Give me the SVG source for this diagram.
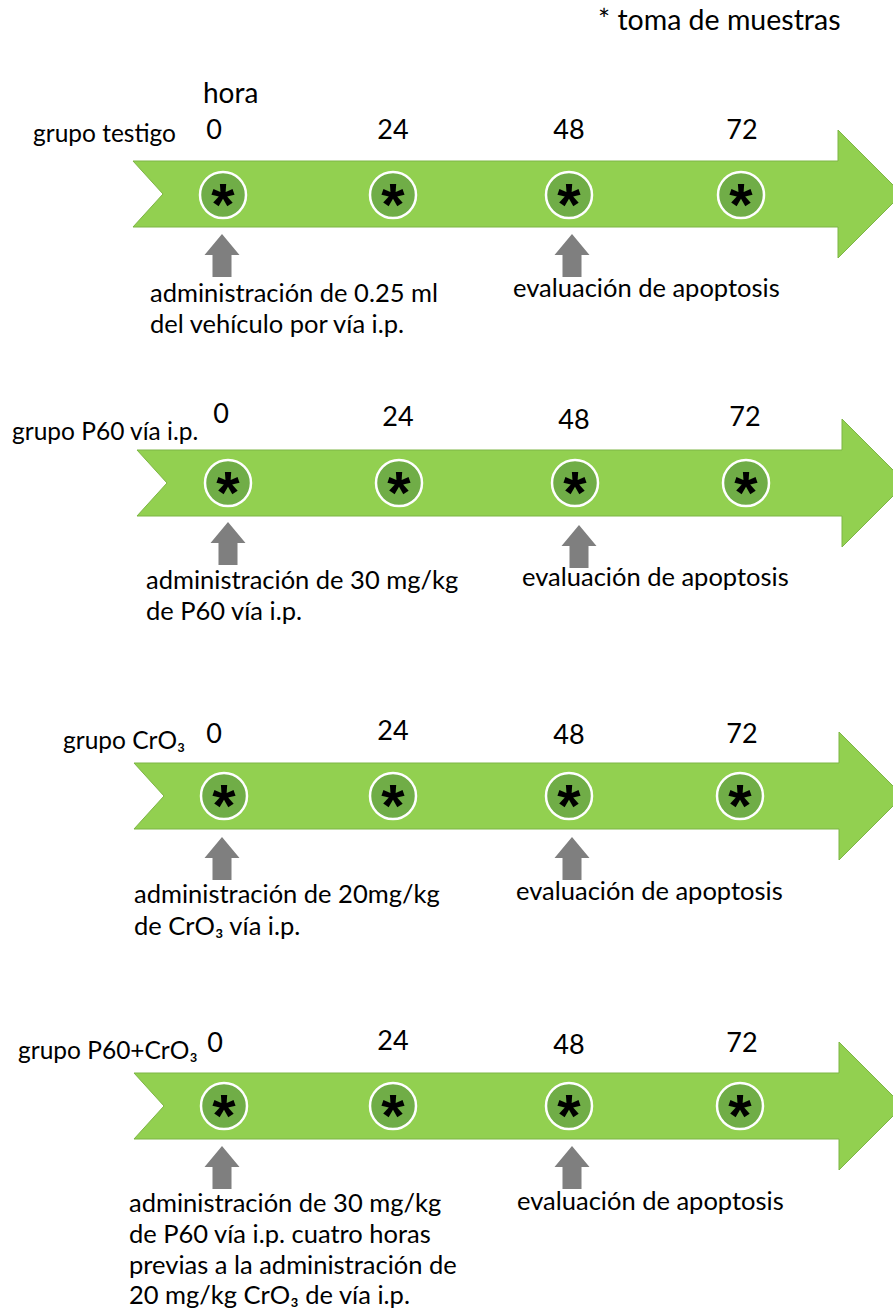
<svg xmlns="http://www.w3.org/2000/svg" width="893" height="1313" viewBox="0 0 893 1313">
<defs>
<style>
text{font-family:Lato,"Open Sans","Liberation Sans",sans-serif;fill:#000}
.t{font-size:25.5px}
.g{font-size:24.5px}
.n{font-size:27px}
.h{font-size:28px}
.tm{font-size:28.5px}
.ast{font-family:"Liberation Sans",sans-serif;font-size:60px;font-weight:bold;text-anchor:middle}
.mid{text-anchor:middle}
.band{fill:#92D050;stroke:#7DB544;stroke-width:1}
.dot{fill:#70AD47;stroke:#FFFFFF;stroke-width:2.5}
.up{fill:#7F7F7F}
</style>
<path id="band" d="M0,-33 L705,-33 L705,-64 L769,0 L705,64 L705,33 L0,33 L30,0 Z"/>
<path id="uparrow" d="M0,0 L17.5,21 L9.5,21 L9.5,43 L-9.5,43 L-9.5,21 L-17.5,21 Z"/>
</defs>
<rect width="893" height="1313" fill="#FFFFFF"/>
<text class="tm" x="598" y="30">* toma de muestras</text>
<text class="h" x="203" y="103">hora</text>

<g id="grupo-testigo">
<use href="#band" class="band" transform="translate(133,194)"/>
<text class="g" x="33" y="142">grupo testigo</text>
<text class="n mid" x="214" y="139">0</text>
<text class="n mid" x="393" y="139">24</text>
<text class="n mid" x="569" y="139">48</text>
<text class="n mid" x="742" y="139">72</text>
<circle class="dot" cx="223" cy="195" r="23"/><text class="ast" x="223" y="225">*</text>
<circle class="dot" cx="393" cy="195" r="23"/><text class="ast" x="393" y="225">*</text>
<circle class="dot" cx="569" cy="195" r="23"/><text class="ast" x="569" y="225">*</text>
<circle class="dot" cx="741" cy="195" r="23"/><text class="ast" x="741" y="225">*</text>
<text class="t" x="150" y="302">administración de 0.25 ml</text>
<text class="t" x="150" y="333">del vehículo por vía i.p.</text>
<text class="t" x="513" y="297">evaluación de apoptosis</text>
</g>

<g id="grupo-p60">
<use href="#band" class="band" transform="translate(137,483)"/>
<text class="g" x="12" y="440">grupo P60 vía i.p.</text>
<text class="n mid" x="221" y="423">0</text>
<text class="n mid" x="398" y="426">24</text>
<text class="n mid" x="574" y="429">48</text>
<text class="n mid" x="745" y="426">72</text>
<circle class="dot" cx="228" cy="483" r="23"/><text class="ast" x="228" y="513">*</text>
<circle class="dot" cx="399" cy="483" r="23"/><text class="ast" x="399" y="513">*</text>
<circle class="dot" cx="575" cy="483" r="23"/><text class="ast" x="575" y="513">*</text>
<circle class="dot" cx="746" cy="483" r="23"/><text class="ast" x="746" y="513">*</text>
<text class="t" x="146" y="589">administración de 30 mg/kg</text>
<text class="t" x="146" y="620">de P60 vía i.p.</text>
<text class="t" x="522" y="586">evaluación de apoptosis</text>
</g>

<g id="grupo-cro3">
<use href="#band" class="band" transform="translate(134,796)"/>
<text class="g" x="63" y="749">grupo CrO₃</text>
<text class="n mid" x="214" y="743">0</text>
<text class="n mid" x="393" y="740">24</text>
<text class="n mid" x="569" y="744">48</text>
<text class="n mid" x="742" y="743">72</text>
<circle class="dot" cx="224" cy="796" r="23"/><text class="ast" x="224" y="826">*</text>
<circle class="dot" cx="393" cy="796" r="23"/><text class="ast" x="393" y="826">*</text>
<circle class="dot" cx="569" cy="796" r="23"/><text class="ast" x="569" y="826">*</text>
<circle class="dot" cx="740" cy="796" r="23"/><text class="ast" x="740" y="826">*</text>
<text class="t" x="134" y="903">administración de 20mg/kg</text>
<text class="t" x="134" y="935">de CrO₃ vía i.p.</text>
<text class="t" x="516" y="900">evaluación de apoptosis</text>
</g>

<g id="grupo-p60-cro3">
<use href="#band" class="band" transform="translate(134,1106)"/>
<text class="g" x="18" y="1059">grupo P60+CrO₃</text>
<text class="n mid" x="215" y="1052">0</text>
<text class="n mid" x="393" y="1050">24</text>
<text class="n mid" x="569" y="1054">48</text>
<text class="n mid" x="742" y="1052">72</text>
<circle class="dot" cx="224" cy="1106" r="23"/><text class="ast" x="224" y="1136">*</text>
<circle class="dot" cx="393" cy="1106" r="23"/><text class="ast" x="393" y="1136">*</text>
<circle class="dot" cx="569" cy="1106" r="23"/><text class="ast" x="569" y="1136">*</text>
<circle class="dot" cx="740" cy="1106" r="23"/><text class="ast" x="740" y="1136">*</text>
<text class="t" x="129" y="1212">administración de 30 mg/kg</text>
<text class="t" x="129" y="1243">de P60 vía i.p. cuatro horas</text>
<text class="t" x="129" y="1274">previas a la administración de</text>
<text class="t" x="129" y="1304">20 mg/kg CrO₃ de vía i.p.</text>
<text class="t" x="517" y="1210">evaluación de apoptosis</text>
</g>

<g id="connectors">
<use href="#uparrow" class="up" transform="translate(222,234)"/>
<use href="#uparrow" class="up" transform="translate(572,234)"/>
<use href="#uparrow" class="up" transform="translate(228,522)"/>
<use href="#uparrow" class="up" transform="translate(579,525)"/>
<use href="#uparrow" class="up" transform="translate(222,837)"/>
<use href="#uparrow" class="up" transform="translate(572,837)"/>
<use href="#uparrow" class="up" transform="translate(222,1146)"/>
<use href="#uparrow" class="up" transform="translate(572,1146)"/>
</g>
</svg>
